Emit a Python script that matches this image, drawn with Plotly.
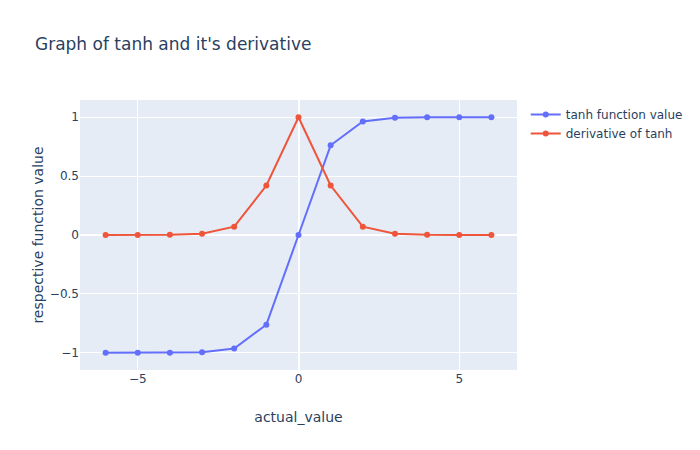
import plotly.graph_objects as go

x_values = [-6, -5, -4, -3, -2, -1, 0, 1, 2, 3, 4, 5, 6]
tanh_values = [-0.99999, -0.99991, -0.99933, -0.99505, -0.96403, -0.76159, 0.0,
               0.76159, 0.96403, 0.99505, 0.99933, 0.99991, 0.99999]
deriv_values = [0.00002, 0.00018, 0.00134, 0.00987, 0.07065, 0.41998, 1.0,
                0.41998, 0.07065, 0.00987, 0.00134, 0.00018, 0.00002]

fig = go.Figure()
fig.add_trace(go.Scatter(x=x_values, y=tanh_values, mode="lines+markers",
                         name="tanh function value"))
fig.add_trace(go.Scatter(x=x_values, y=deriv_values, mode="lines+markers",
                         name="derivative of tanh"))
fig.update_layout(
    title="Graph of tanh and it's derivative",
    xaxis=dict(title=dict(text="actual_value", standoff=27)),
    yaxis=dict(title=dict(text="respective function value", standoff=2)),
    font=dict(family="DejaVu Sans"),
    width=700, height=450,
)
fig.write_html("out.html")
